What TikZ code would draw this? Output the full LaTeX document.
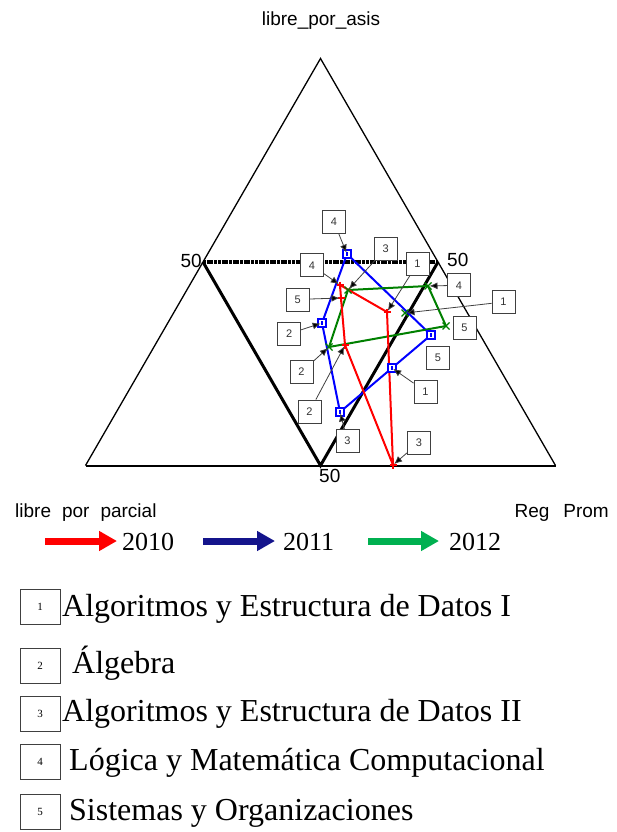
\documentclass[tikz,border=0pt]{standalone}
\usepackage{fontspec}
\setmainfont{Liberation Serif}
\newfontfamily\arialf{Liberation Sans}
\usetikzlibrary{arrows.meta}
\newcommand\setpx[1]{\fontsize{#1}{#1}\selectfont}
\definecolor{pred}{RGB}{255,0,0}
\definecolor{pblue}{RGB}{0,0,255}
\definecolor{pgreen}{RGB}{0,128,0}
\definecolor{lnavy}{RGB}{20,20,140}
\definecolor{lgreen}{RGB}{0,176,80}
\tikzset{
  outerside/.style={line width=1.3pt, black},
  innerside/.style={line width=3pt, black},
  topdots/.style={line width=4.2pt, black, dash pattern=on 3pt off 0.7pt},
  ser10/.style={pred, line width=2pt, line join=round},
  ser11/.style={pblue, line width=2pt, line join=round},
  ser12/.style={pgreen, line width=2pt, line join=round},
  tag/.style={draw=black!75, fill=white, line width=0.8pt, minimum width=23pt, minimum height=23pt, inner sep=0pt, text=black!80, font=\arialf\setpx{11}},
  lead/.style={draw=black!75, line width=0.8pt, -{Latex[length=8pt,width=7pt,fill=black]}, shorten >=1.5pt},
  axlab/.style={font=\arialf\setpx{19}, inner sep=0pt},
  legarrow/.style={line width=7pt, -{Triangle[length=18pt,width=19pt]}},
  yeartext/.style={font=\setpx{26}, inner sep=0pt, anchor=base west},
  keybox/.style={draw=black!75, line width=0.8pt, minimum width=40pt, minimum height=35pt, inner sep=0pt, font=\setpx{11}},
  keytext/.style={font=\setpx{32}, inner sep=0pt, anchor=base west},
  plusmark/.pic={\draw[pred, line width=1.4pt] (-3.5,0) -- (3.5,0) (0,-3.5) -- (0,3.5);},
  sqmark/.pic={\draw[pblue, line width=1.4pt, fill=white] (-4,-4) rectangle (4,4); \fill[pblue] (-0.8,-2) rectangle (0.8,2);},
  xmark/.pic={\draw[pgreen, line width=1.4pt] (-3.5,-3.5) -- (3.5,3.5) (-3.5,3.5) -- (3.5,-3.5);}
}
\begin{document}
\begin{tikzpicture}[x=1pt,y=-1pt]
\useasboundingbox (0,0) rectangle (617,832);
% triangle corners
\coordinate (A) at (320.5,58.5);
\coordinate (L) at (85.5,465.5);
\coordinate (R) at (555.5,465.5);
\coordinate (ML) at (203,262);
\coordinate (MR) at (438,262);
\coordinate (MB) at (320.5,465.5);
\draw[outerside] (L) -- (A) -- (R);
\draw[line width=2pt] (L) -- (R);
\draw[innerside] (ML) -- (MB) -- (MR);
\draw[topdots] (ML) -- (MR);
% axis labels
\node[axlab, anchor=base] (top) at (321,26) {libre\_por\_asis};
\node[axlab, anchor=east] (fiftyL) at (202,261) {50};
\node[axlab, anchor=west] (fiftyR) at (447,260) {50};
\node[axlab, anchor=north west] (fiftyB) at (319,469) {50};
\node[axlab, anchor=base west] (bl) at (15,517) {libre\hspace{11pt}por\hspace{11pt}parcial};
\node[axlab, anchor=base east] (br) at (609,517) {Reg\hspace{14pt}Prom};
% data points
\coordinate (R1) at (387,312);
\coordinate (R2) at (345,345);
\coordinate (R3) at (393,465);
\coordinate (R4) at (340,285);
\coordinate (R5) at (341,298);
\coordinate (B1) at (392,368);
\coordinate (B2) at (322,323);
\coordinate (B3) at (340,412);
\coordinate (B4) at (347,254);
\coordinate (B5) at (431,335);
\coordinate (G1) at (405,313);
\coordinate (G2) at (329,347);
\coordinate (G3) at (348,290);
\coordinate (G4) at (428,286);
\coordinate (G5) at (446,326);
\draw[ser11] (B4) -- (B5) -- (B1) -- (B3) -- (B2) -- cycle;
\draw[ser12] (G3) -- (G4) -- (G5) -- (G2) -- cycle;
\draw[ser10] (R1) -- (R4) -- (R5) -- (R2) -- (R3) -- cycle;
\foreach \p in {R1,R2,R3,R4,R5} \pic at (\p) {plusmark};
\foreach \p in {B1,B2,B3,B4,B5} \pic at (\p) {sqmark};
\foreach \p in {G1,G2,G3,G4,G5} \pic at (\p) {xmark};
% tags
\node[tag] (t4a) at (334,222) {4};
\node[tag] (t3a) at (385.6,248.7) {3};
\node[tag] (t1a) at (417.4,263.7) {1};
\node[tag] (t4b) at (312,265.3) {4};
\node[tag] (t4c) at (459,285.3) {4};
\node[tag] (t1b) at (503.5,302) {1};
\node[tag] (t5a) at (297.8,299.4) {5};
\node[tag] (t2a) at (289.2,333.7) {2};
\node[tag] (t5b) at (464.5,327.7) {5};
\node[tag] (t5c) at (438,358) {5};
\node[tag] (t2b) at (301.5,372) {2};
\node[tag] (t2c) at (309.5,411.5) {2};
\node[tag] (t1c) at (425.5,391.5) {1};
\node[tag] (t3b) at (347.5,441) {3};
\node[tag] (t3c) at (419,442.5) {3};
\draw[lead] (t4a) -- (B4);
\draw[lead] (t3a) -- (G3);
\draw[lead] (t1a) -- (R1);
\draw[lead] (t4b) -- (R4);
\draw[lead] (t4c) -- (G4);
\draw[lead] (t1b) -- (G1);
\draw[lead] (t5a) -- (R5);
\draw[lead] (t2a) -- (B2);
\draw[lead] (t2b) -- (G2);
\draw[lead] (t2c) -- (R2);
\draw[lead] (t1c) -- (B1);
\draw[lead] (t3b) -- (B3);
\draw[lead] (t3c) -- (R3);
% year legend
\coordinate (a10s) at (45,541);
\coordinate (a10e) at (117,541);
\coordinate (a11s) at (203,541);
\coordinate (a11e) at (275,541);
\coordinate (a12s) at (368,541);
\coordinate (a12e) at (439,541);
\draw[legarrow, pred] (a10s) -- (a10e);
\draw[legarrow, lnavy] (a11s) -- (a11e);
\draw[legarrow, lgreen] (a12s) -- (a12e);
\node[yeartext] (y10) at (122,550) {2010};
\node[yeartext] (y11) at (283,550) {2011};
\node[yeartext] (y12) at (449,550) {2012};
% subject key
\node[keybox] (k1) at (40,607) {\raisebox{-5pt}{1}};
\node[keybox] (k2) at (40,665.5) {\raisebox{-5pt}{2}};
\node[keybox] (k3) at (40,714) {\raisebox{-5pt}{3}};
\node[keybox] (k4) at (40,761.5) {\raisebox{-5pt}{4}};
\node[keybox] (k5) at (40,811.5) {\raisebox{-5pt}{5}};
\node[keytext] (s1) at (62,616) {Algoritmos y Estructura de Datos I};
\node[keytext] (s2) at (72,673) {Álgebra};
\node[keytext] (s3) at (62,721) {Algoritmos y Estructura de Datos II};
\node[keytext] (s4) at (69,770) {Lógica y Matemática Computacional};
\node[keytext] (s5) at (69,820) {Sistemas y Organizaciones};
\end{tikzpicture}
\end{document}
